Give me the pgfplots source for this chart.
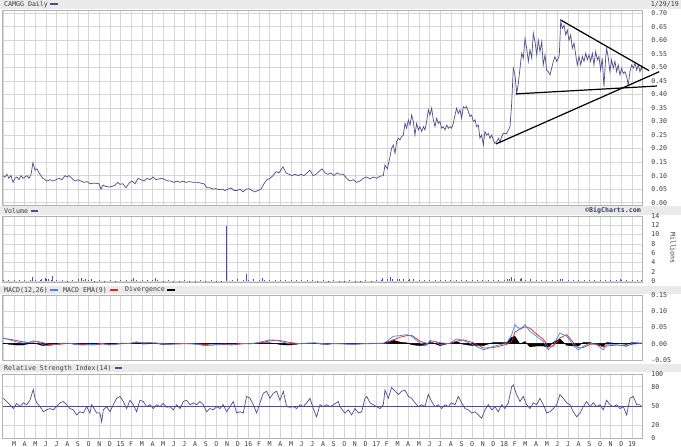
\documentclass[border=0pt]{standalone}
\usepackage{fontspec}
\setmainfont{DejaVu Sans Mono}
\usepackage{pgfplots}
\usepackage{pgfplotstable}
\pgfplotsset{compat=1.18}
\definecolor{pline}{RGB}{78,78,140}
\definecolor{macdblue}{RGB}{70,130,240}
\definecolor{macdred}{RGB}{220,40,40}
\definecolor{gridc}{RGB}{214,214,214}
\definecolor{barc}{RGB}{234,234,234}
\definecolor{txt}{RGB}{60,60,60}
\definecolor{bc}{RGB}{60,60,110}
\newcommand\hdr{\fontsize{6.6}{7.5}\selectfont}

\pgfplotstableread{
m p
0.97 0.100
1.15 0.095
1.34 0.105
1.53 0.090
1.72 0.100
1.91 0.075
2.09 0.090
2.28 0.095
2.47 0.085
2.66 0.100
2.84 0.090
3.03 0.095
3.22 0.100
3.41 0.090
3.60 0.105
3.78 0.148
3.97 0.120
4.16 0.125
4.35 0.110
4.53 0.100
4.72 0.090
4.91 0.085
5.10 0.080
5.38 0.085
5.66 0.080
5.94 0.085
6.22 0.090
6.50 0.085
6.79 0.100
6.97 0.095
7.16 0.100
7.44 0.090
7.72 0.080
8.01 0.085
8.29 0.080
8.57 0.075
8.85 0.078
9.13 0.070
9.41 0.072
9.69 0.072
9.98 0.070
10.16 0.050
10.35 0.065
10.63 0.060
10.92 0.058
11.20 0.060
11.48 0.065
11.76 0.075
11.95 0.068
12.23 0.070
12.51 0.055
12.79 0.072
13.07 0.080
13.36 0.070
13.64 0.090
13.92 0.085
14.20 0.080
14.48 0.090
14.76 0.085
15.05 0.095
15.33 0.085
15.61 0.088
15.89 0.090
16.17 0.085
16.45 0.080
16.73 0.080
17.02 0.075
17.30 0.080
17.58 0.075
17.86 0.080
18.14 0.075
18.42 0.078
18.70 0.076
18.99 0.075
19.27 0.075
19.55 0.072
19.83 0.070
20.11 0.055
20.39 0.055
20.68 0.050
20.96 0.052
21.24 0.048
21.52 0.050
21.80 0.045
22.08 0.050
22.36 0.055
22.65 0.045
22.93 0.045
23.21 0.050
23.49 0.040
23.77 0.050
24.05 0.052
24.33 0.045
24.62 0.040
24.90 0.045
25.18 0.050
25.46 0.070
25.74 0.085
26.02 0.090
26.31 0.100
26.59 0.115
26.87 0.110
27.24 0.133
27.53 0.110
27.81 0.105
28.09 0.100
28.37 0.105
28.65 0.100
28.93 0.105
29.22 0.100
29.50 0.110
29.78 0.120
30.06 0.100
30.34 0.105
30.62 0.115
30.91 0.125
31.19 0.110
31.47 0.105
31.75 0.110
32.03 0.100
32.31 0.110
32.60 0.105
32.90 0.105
33.22 0.090
33.53 0.080
33.84 0.085
34.16 0.075
34.47 0.080
34.78 0.090
35.10 0.095
35.41 0.088
35.72 0.095
36.04 0.090
36.35 0.098
36.66 0.100
36.82 0.139
37.04 0.125
37.29 0.170
37.44 0.201
37.60 0.213
37.76 0.182
37.91 0.225
38.07 0.238
38.23 0.232
38.38 0.244
38.54 0.250
38.70 0.293
38.85 0.275
39.01 0.306
39.17 0.287
39.32 0.324
39.48 0.300
39.63 0.250
39.79 0.293
39.95 0.269
40.10 0.281
40.26 0.263
40.42 0.281
40.57 0.269
40.73 0.300
40.89 0.343
41.04 0.324
41.20 0.349
41.36 0.306
41.51 0.281
41.67 0.312
41.82 0.293
41.98 0.300
42.14 0.275
42.29 0.281
42.45 0.269
42.61 0.287
42.76 0.275
42.92 0.281
43.08 0.275
43.23 0.293
43.39 0.324
43.54 0.349
43.70 0.330
43.86 0.343
44.01 0.312
44.17 0.355
44.33 0.349
44.48 0.355
44.64 0.337
44.80 0.318
44.95 0.324
45.11 0.300
45.27 0.306
45.42 0.281
45.58 0.287
45.73 0.238
45.89 0.250
46.05 0.213
46.20 0.263
46.36 0.250
46.52 0.256
46.67 0.238
46.83 0.250
46.99 0.232
47.14 0.219
47.30 0.225
47.46 0.238
47.61 0.225
47.77 0.244
47.92 0.256
48.24 0.256
48.55 0.280
48.71 0.367
48.86 0.497
49.02 0.472
49.18 0.404
49.33 0.440
49.49 0.497
49.65 0.552
49.80 0.534
49.96 0.607
50.12 0.570
50.27 0.522
50.43 0.565
50.59 0.534
50.74 0.626
50.90 0.595
51.06 0.546
51.21 0.600
51.37 0.558
51.53 0.595
51.67 0.509
51.84 0.546
51.99 0.490
52.15 0.484
52.31 0.472
52.46 0.497
52.62 0.522
52.77 0.540
52.93 0.522
53.09 0.534
53.18 0.546
53.31 0.671
53.46 0.644
53.62 0.656
53.78 0.620
53.93 0.638
54.09 0.600
54.25 0.620
54.40 0.570
54.56 0.589
54.72 0.546
54.87 0.509
55.03 0.540
55.19 0.509
55.34 0.540
55.50 0.522
55.66 0.552
55.81 0.528
55.97 0.546
56.12 0.522
56.28 0.552
56.43 0.509
56.59 0.558
56.75 0.528
56.90 0.540
57.06 0.490
57.21 0.534
57.37 0.429
57.53 0.534
57.62 0.570
57.78 0.534
57.93 0.484
58.09 0.528
58.24 0.497
58.40 0.522
58.56 0.484
58.71 0.509
58.87 0.472
59.03 0.497
59.18 0.478
59.34 0.484
59.50 0.466
59.65 0.435
59.81 0.484
59.97 0.509
60.12 0.497
60.28 0.515
60.44 0.490
60.59 0.509
60.75 0.484
60.91 0.503
60.93 0.490
}\price

\pgfplotstableread{
m r
1.00 62
1.31 57
1.62 52
1.94 46
2.25 54
2.56 49
2.88 55
3.19 52
3.50 59
3.81 76
3.97 62
4.13 55
4.44 49
4.75 41
5.06 44
5.38 46
5.69 44
6.00 49
6.32 55
6.63 57
6.94 52
7.25 46
7.57 44
7.88 36
8.19 41
8.51 39
8.82 49
9.13 39
9.29 52
9.76 39
10.07 39
10.23 25
10.38 44
10.70 49
11.01 41
11.32 52
11.63 62
11.95 65
12.26 57
12.57 46
12.89 59
13.20 52
13.51 41
13.82 59
14.14 57
14.45 49
14.76 52
15.08 46
15.39 52
15.70 49
16.01 54
16.33 48
16.64 49
16.95 44
17.26 52
17.58 46
17.89 57
18.20 59
18.52 52
18.83 55
19.14 52
19.45 57
19.77 52
20.08 41
20.39 46
20.71 44
21.02 49
21.33 46
21.64 52
21.96 41
22.27 49
22.58 57
22.90 39
23.21 41
23.52 39
23.83 65
24.15 62
24.46 52
24.77 39
25.09 55
25.40 70
25.71 73
26.02 62
26.34 70
26.65 73
26.96 59
27.28 73
27.59 49
27.90 48
28.21 49
28.53 46
28.84 52
29.15 49
29.47 55
29.78 62
30.09 46
30.40 33
30.72 52
31.03 49
31.34 52
31.66 49
31.97 52
32.44 57
32.59 49
33.06 39
33.38 44
33.69 36
34.00 46
34.33 39
34.63 41
34.94 62
35.10 65
35.41 55
35.72 52
36.04 49
36.35 46
36.66 52
36.82 75
37.13 62
37.44 79
37.76 73
38.07 68
38.38 73
38.69 75
39.01 65
39.32 62
39.63 55
39.95 49
40.26 52
40.57 49
40.88 68
41.20 57
41.51 49
41.82 52
42.14 46
42.45 52
42.76 49
43.07 55
43.39 52
43.70 65
44.01 55
44.33 46
44.64 44
44.95 39
45.26 41
45.58 36
45.89 31
46.20 44
46.52 52
46.83 44
47.14 49
47.45 41
47.77 52
48.08 46
48.39 55
48.71 80
48.86 83
49.17 68
49.49 57
49.80 65
50.11 52
50.43 46
50.74 55
51.05 52
51.36 62
51.68 52
51.99 39
52.30 41
52.62 46
52.93 52
53.24 68
53.55 62
53.87 55
54.18 52
54.49 41
54.81 33
55.12 39
55.43 49
55.74 57
56.06 49
56.37 55
56.68 49
56.99 52
57.31 44
57.62 59
57.93 52
58.25 49
58.56 52
58.87 46
59.19 49
59.50 36
59.81 62
60.12 65
60.44 52
60.75 52
60.93 49
}\rsi

\pgfplotstableread{
m macd sig div
0.97 0.018 0.016 0.002
1.6 0.012 0.014 -0.002
2.2 0.006 0.010 -0.004
2.8 0.002 0.006 -0.004
3.4 0.004 0.004 0.000
3.8 0.009 0.006 0.003
4.2 0.006 0.007 -0.001
4.7 -0.003 0.003 -0.006
5.3 -0.006 -0.002 -0.004
5.9 -0.002 -0.003 0.001
6.5 0.001 -0.001 0.002
7.1 0.002 0.001 0.001
7.8 -0.002 0.000 -0.002
8.4 -0.004 -0.002 -0.002
9.0 -0.003 -0.003 0.000
9.6 -0.002 -0.003 0.001
10.3 0.001 -0.001 0.002
10.9 -0.004 -0.002 -0.002
11.5 -0.002 -0.002 0.000
12.1 0.002 0.000 0.002
12.8 0.001 0.001 0.000
13.5 0.006 0.003 0.003
14.1 0.002 0.003 -0.001
14.8 0.003 0.003 0.000
15.4 0.002 0.002 0.000
16.0 -0.001 0.001 -0.002
16.7 -0.002 -0.001 -0.001
17.3 0.000 -0.001 0.001
18.0 0.001 0.000 0.001
18.6 0.000 0.000 0.000
19.3 -0.002 -0.001 -0.001
19.9 -0.006 -0.003 -0.003
20.5 -0.004 -0.004 0.000
21.1 -0.002 -0.003 0.001
21.8 -0.001 -0.002 0.001
22.4 -0.004 -0.003 -0.001
23.0 0.000 -0.002 0.002
23.6 0.001 0.000 0.001
24.2 0.000 0.000 0.000
24.9 0.004 0.002 0.002
25.5 0.008 0.005 0.003
26.0 0.012 0.009 0.003
26.6 0.011 0.011 0.000
27.1 0.006 0.009 -0.003
27.7 0.001 0.005 -0.004
28.3 -0.001 0.002 -0.003
28.9 0.001 0.000 0.001
29.5 0.002 0.001 0.001
30.2 0.003 0.002 0.001
30.8 0.000 0.001 -0.001
31.4 -0.002 0.000 -0.002
32.0 0.001 0.000 0.001
32.6 0.000 0.000 0.000
33.85 -0.002 -0.001 -0.001
35.10 0.001 0.000 0.001
36.66 0.002 0.001 0.001
36.97 0.007 0.002 0.005
37.60 0.023 0.012 0.011
38.23 0.025 0.020 0.005
38.85 0.028 0.025 0.003
39.32 0.023 0.026 -0.003
40.10 0.002 0.008 -0.006
40.73 -0.003 0.001 -0.004
41.04 0.010 0.003 0.007
41.51 0.007 0.007 0.000
41.98 -0.003 0.003 -0.006
42.92 0.002 0.000 0.002
43.54 0.015 0.008 0.007
44.17 0.010 0.012 -0.002
45.11 -0.003 0.003 -0.006
46.05 -0.019 -0.013 -0.006
46.98 -0.008 -0.012 0.004
48.24 0.002 -0.002 0.004
48.71 0.028 0.008 0.020
49.02 0.059 0.036 0.023
49.49 0.044 0.045 -0.001
49.96 0.059 0.052 0.007
50.43 0.038 0.048 -0.010
51.05 0.023 0.030 -0.007
51.68 0.007 0.014 -0.007
52.15 -0.019 -0.008 -0.011
52.62 -0.003 -0.008 0.005
53.24 0.033 0.018 0.015
53.87 0.023 0.028 -0.005
54.49 -0.003 0.004 -0.007
54.96 -0.019 -0.012 -0.007
55.43 -0.008 -0.012 0.004
56.06 0.002 -0.002 0.004
56.68 -0.003 0.000 -0.003
57.31 -0.019 -0.010 -0.009
57.62 -0.003 -0.007 0.004
58.56 -0.003 -0.004 0.001
59.50 -0.008 -0.006 -0.002
60.12 0.004 -0.001 0.005
60.93 0.002 0.002 0.000
}\macdtab

\pgfplotstableread{
m v
1.0 0.3
1.5 0.2
2.0 0.25
2.5 0.15
3.0 0.3
3.5 0.2
4.0 0.3
4.5 0.25
5.0 0.35
5.5 0.2
6.0 0.15
6.5 0.2
7.0 0.1
7.5 0.15
8.0 0.3
8.5 0.2
9.0 0.15
9.5 0.1
10.0 0.2
10.5 0.1
11.0 0.15
11.5 0.1
12.0 0.2
12.5 0.15
13.0 0.2
13.5 0.25
14.0 0.15
14.5 0.2
15.0 0.3
15.5 0.15
16.0 0.1
16.5 0.15
17.0 0.1
17.5 0.1
18.0 0.15
18.5 0.1
19.0 0.1
19.5 0.15
20.0 0.1
20.5 0.15
21.0 0.1
21.5 0.1
22.5 0.2
23.0 0.15
23.5 0.3
24.0 0.2
24.5 0.15
25.0 0.2
25.5 0.3
26.0 0.25
26.5 0.3
27.0 0.2
27.5 0.25
28.0 0.15
28.5 0.2
29.0 0.15
29.5 0.2
30.0 0.15
30.5 0.1
31.0 0.15
31.5 0.1
32.0 0.15
32.5 0.1
33.0 0.1
33.5 0.15
34.0 0.1
34.5 0.1
35.0 0.15
35.5 0.1
36.0 0.15
36.5 0.3
37.0 0.45
37.5 0.5
38.0 0.4
38.5 0.35
39.0 0.3
39.5 0.4
40.0 0.3
40.5 0.25
41.0 0.3
41.5 0.25
42.0 0.2
42.5 0.25
43.0 0.2
43.5 0.3
44.0 0.25
44.5 0.2
45.0 0.2
45.5 0.15
46.0 0.2
46.5 0.15
47.0 0.2
47.5 0.15
48.0 0.2
48.5 0.4
49.0 0.5
49.5 0.35
50.0 0.3
50.5 0.35
51.0 0.25
51.5 0.3
52.0 0.2
52.5 0.25
53.0 0.3
53.5 0.35
54.0 0.2
54.5 0.25
55.0 0.2
55.5 0.15
56.0 0.2
56.5 0.3
57.0 0.2
57.5 0.25
58.0 0.2
58.5 0.15
59.0 0.2
59.5 0.15
60.0 0.2
60.5 0.15
60.9 0.2
3.72 0.8
4.60 0.4
4.91 0.6
5.22 0.5
5.60 1.0
8.04 0.4
8.35 0.6
8.66 0.4
9.29 0.5
13.20 0.7
15.23 0.7
21.96 11.9
22.96 0.5
23.77 1.5
24.46 0.4
25.34 0.7
36.6 0.6
37.3 0.9
38.2 0.5
39.1 0.5
48.3 0.5
48.7 0.8
49.6 0.6
53.3 0.4
58.9 0.4
}\vol

\pgfplotsset{
  panel/.style={
    scale only axis, width=639.5pt, xmin=0.93, xmax=60.95,
    anchor=south west,
    axis line style={draw=gray!60},
    xtick={1,...,60},
    grid=major, major grid style={draw=gridc, line width=0.6pt},
    major tick length=0pt,
    ytick pos=right, yticklabel pos=right,
    /pgf/number format/assume math mode=true,
    yticklabel style={font=\hdr, text=txt, anchor=west, inner sep=0pt, xshift=9pt},
    xticklabel style={font=\hdr, text=txt, anchor=north, inner sep=0pt, yshift=-3.5pt},
  },
}

\begin{document}
\begin{tikzpicture}[x=1pt,y=1pt]
\fill[white] (0pt,0pt) rectangle (681pt,447pt);
\fill[barc] (0pt,438pt) rectangle (681pt,447pt);
\fill[barc] (0pt,231.5pt) rectangle (681pt,240.5pt);
\fill[barc] (0pt,153pt) rectangle (681pt,161pt);
\fill[barc] (0pt,74.5pt) rectangle (681pt,82.5pt);

% price
\begin{axis}[panel, at={(2.6pt,242pt)}, height=195pt,
  ymin=-0.0085, ymax=0.712, clip=false,
  ytick={0,0.05,0.10,0.15,0.20,0.25,0.30,0.35,0.40,0.45,0.50,0.55,0.60,0.65,0.70},
  yticklabel style={/pgf/number format/fixed,/pgf/number format/fixed zerofill,/pgf/number format/precision=2},
  xticklabels={}]
\addplot[pline, line width=0.7pt] table[x=m,y=p]{\price};
\addplot[black, line width=1.2pt] coordinates {(53.31,0.675) (61.60,0.488)};
\addplot[black, line width=1.2pt] coordinates {(47.24,0.217) (62.56,0.484)};
\addplot[black, line width=1.2pt] coordinates {(49.10,0.402) (62.33,0.431)};
\end{axis}

% volume
\begin{axis}[panel, at={(2.6pt,165pt)}, height=66pt,
  ymin=-0.215, ymax=14, ytick={0,2,4,6,8,10,12,14},
  xticklabels={}]
\addplot[ycomb, pline, line width=0.7pt] table[x=m,y=v]{\vol};
\end{axis}

% MACD
\begin{axis}[panel, at={(2.6pt,87pt)}, height=65pt,
  ymin=-0.05, ymax=0.15, ytick={-0.05,0,0.05,0.10,0.15},
  yticklabel style={/pgf/number format/fixed,/pgf/number format/fixed zerofill,/pgf/number format/precision=2},
  extra y ticks={0}, extra y tick labels={},
  extra y tick style={major grid style={draw=black!80, line width=0.7pt}},
  xticklabels={}]
\addplot[fill=black, draw=black, line width=0.3pt] table[x=m,y=div]{\macdtab} \closedcycle;
\addplot[macdred, line width=0.7pt] table[x=m,y=sig]{\macdtab};
\addplot[macdblue, line width=0.7pt] table[x=m,y=macd]{\macdtab};
\end{axis}

% RSI
\begin{axis}[panel, at={(2.6pt,9pt)}, height=64pt,
  ymin=0, ymax=100, ytick={0,20,50,80,100},
  extra y ticks={50}, extra y tick labels={},
  extra y tick style={major grid style={draw=pline, line width=0.7pt}},
  xtick={2,...,60},
  xticklabels={M,A,M,J,J,A,S,O,N,D,15,F,M,A,M,J,J,A,S,O,N,D,16,F,M,A,M,J,J,A,S,O,N,D,17,F,M,A,M,J,J,A,S,O,N,D,18,F,M,A,M,J,J,A,S,O,N,D,19}]
\addplot[pline, line width=0.7pt] table[x=m,y=r]{\rsi};
\end{axis}

% headers
\node[anchor=west, inner sep=0, font=\hdr, text=txt] at (4pt,442.5pt) {CAMGG Daily};
\fill[pline] (50pt,441.5pt) rectangle (58pt,443.5pt);
\node[anchor=east, inner sep=0, font=\hdr, text=txt] at (679pt,442.5pt) {1/29/19};
\node[anchor=west, inner sep=0, font=\hdr, text=txt] at (4pt,236pt) {Volume};
\fill[pline] (31pt,235pt) rectangle (38pt,237pt);
\node[inner sep=0, font=\hdr\bfseries, text=bc] at (613pt,236pt) {©BigCharts.com};
\node[anchor=west, inner sep=0, font=\hdr, text=txt] at (4pt,157pt) {MACD(12,26)};
\fill[macdblue] (50pt,156pt) rectangle (58pt,158pt);
\node[anchor=west, inner sep=0, font=\hdr, text=txt] at (63pt,157pt) {MACD EMA(9)};
\fill[macdred] (110pt,156pt) rectangle (118pt,158pt);
\node[anchor=west, inner sep=0, font=\hdr, text=txt] at (125pt,157pt) {Divergence};
\fill[black] (167pt,156pt) rectangle (175pt,158pt);
\node[anchor=west, inner sep=0, font=\hdr, text=txt] at (4pt,78.5pt) {Relative Strength Index(14)};
\fill[pline] (115pt,77.5pt) rectangle (122pt,79.5pt);
\node[rotate=-90, inner sep=0, font=\hdr, text=txt] at (673pt,199pt) {Millions};
\end{tikzpicture}
\end{document}
